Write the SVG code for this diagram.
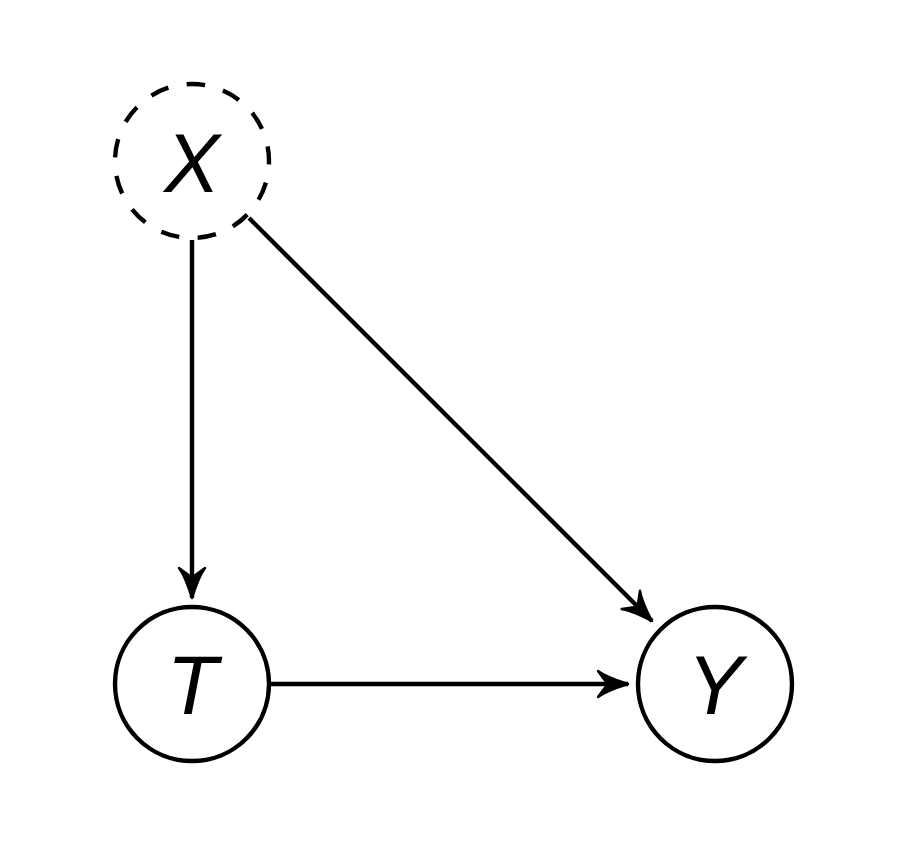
<svg xmlns="http://www.w3.org/2000/svg" width="897" height="847" viewBox="0 0 897 847">
<style>
.node{fill:#fff;stroke:#000;stroke-width:4.4}
.dashed{stroke-dasharray:18.6 18.6;stroke-dashoffset:15.2}
.lbl{font-family:"Liberation Sans",Arial,sans-serif;font-style:italic;font-size:83px;text-anchor:middle;fill:#000}
.edge{stroke:#000;stroke-width:4.4;fill:none;marker-end:url(#arr)}
</style>
<defs>
<marker id="arr" markerUnits="userSpaceOnUse" markerWidth="44" markerHeight="44" viewBox="-36 -22 44 44" refX="0" refY="0" orient="auto">
<path d="M0,0 C-8,-2.5 -22,-7 -30,-13 C-25,-6 -22,-2 -20,0 C-22,2 -25,6 -30,13 C-22,7 -8,2.5 0,0 Z" fill="#000" stroke="#000" stroke-width="2.4" stroke-linejoin="round"/>
</marker>
</defs>
<rect width="897" height="847" fill="#fff"/>
<g id="connectors">
<line class="edge" x1="192" y1="240" x2="192" y2="598"/>
<line class="edge" x1="249" y1="218" x2="652" y2="621"/>
<line class="edge" x1="270" y1="684" x2="628" y2="684"/>
</g>
<g id="node-X">
<circle class="node dashed" cx="192" cy="161" r="77"/>
<text class="lbl" x="192" y="192">X</text>
</g>
<g id="node-T">
<circle class="node" cx="192" cy="684" r="77"/>
<text class="lbl" x="192" y="714">T</text>
</g>
<g id="node-Y">
<circle class="node" cx="715" cy="684" r="77"/>
<text class="lbl" x="715" y="714">Y</text>
</g>
</svg>
